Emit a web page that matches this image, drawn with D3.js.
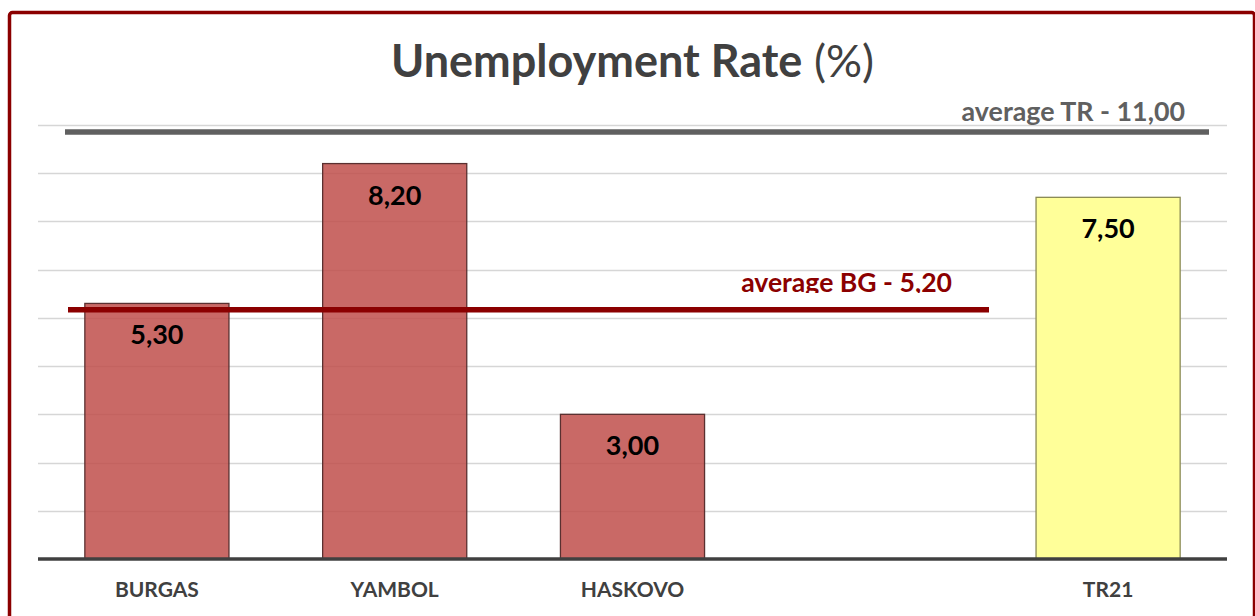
<!DOCTYPE html>
<html>
<head>
<meta charset="utf-8">
<script src="https://cdn.jsdelivr.net/npm/d3@7"></script>
<style>
  html, body { margin: 0; padding: 0; background: #fff; }
  svg { display: block; }
  text { font-family: Lato, "Open Sans", sans-serif; }
</style>
</head>
<body>
<svg id="chart" width="1255" height="616"></svg>
<script>
// ---- data ----
const categories = ["BURGAS", "YAMBOL", "HASKOVO", "", "TR21"];
const values = [5.30, 8.20, 3.00, null, 7.50];
const barColors = ["red", "red", "red", null, "yellow"];
const yTicks = [0, 1, 2, 3, 4, 5, 6, 7, 8, 9];
const avgBG = 5.20;
const avgTR = 11.00;
const titleBold = "Unemployment Rate";
const titleRest = " (%)";

const fmt = v => v.toFixed(2).replace(".", ",");

const svg = d3.select("#chart");
const W = 1255, H = 616;
const plot = { left: 38, right: 1227, top: 125, bottom: 559 };

// frame
svg.append("rect")
  .attr("x", 9.5).attr("y", 12.5)
  .attr("width", 1245).attr("height", 700)
  .attr("rx", 3)
  .attr("fill", "#fff")
  .attr("stroke", "#8B0000").attr("stroke-width", 3.5);

const x = d3.scaleBand()
  .domain(d3.range(categories.length))
  .range([plot.left, plot.right])
  .paddingInner(0.394).paddingOuter(0.197);

const y = d3.scaleLinear()
  .domain([0, 9])
  .range([plot.bottom, plot.top]);

// gridlines
svg.append("g")
  .selectAll("line")
  .data(yTicks.filter(t => t > 0))
  .join("line")
  .attr("x1", plot.left).attr("x2", plot.right)
  .attr("y1", d => Math.round(y(d)) + 0.5).attr("y2", d => Math.round(y(d)) + 0.5)
  .attr("stroke", "#d6d6d6").attr("stroke-width", 1.5);

// title
const title = svg.append("text")
  .attr("x", (plot.left + plot.right) / 2).attr("y", 77)
  .attr("text-anchor", "middle")
  .attr("fill", "#404040")
  .attr("font-size", 45);
title.append("tspan").attr("font-weight", "bold").text(titleBold);
title.append("tspan").attr("font-weight", "normal").text(titleRest);

// bars
const barData = categories.map((c, i) => ({ c, i, v: values[i], col: barColors[i] }))
  .filter(d => d.v != null);

svg.append("g")
  .selectAll("rect")
  .data(barData)
  .join("rect")
  .attr("x", d => x(d.i))
  .attr("y", d => y(d.v))
  .attr("width", x.bandwidth())
  .attr("height", d => y(0) - y(d.v))
  .attr("fill", d => d.col === "red" ? "rgba(192,80,77,0.86)" : "#FFFF99")
  .attr("stroke", d => d.col === "red" ? "#5a3030" : "#8a8a55")
  .attr("stroke-width", 1.3);

// value labels
svg.append("g")
  .selectAll("text")
  .data(barData)
  .join("text")
  .attr("x", d => x(d.i) + x.bandwidth() / 2)
  .attr("y", d => y(d.v) + 41)
  .attr("text-anchor", "middle")
  .attr("font-weight", "bold")
  .attr("font-size", 27)
  .attr("fill", "#000")
  .text(d => fmt(d.v));

// baseline axis
svg.append("line")
  .attr("x1", plot.left).attr("x2", plot.right)
  .attr("y1", y(0)).attr("y2", y(0))
  .attr("stroke", "#404040").attr("stroke-width", 3.5);

// category labels
svg.append("g")
  .selectAll("text")
  .data(categories.map((c, i) => ({ c, i })).filter(d => d.c))
  .join("text")
  .attr("x", d => x(d.i) + x.bandwidth() / 2)
  .attr("y", 597)
  .attr("text-anchor", "middle")
  .attr("font-weight", "bold")
  .attr("font-size", 21)
  .attr("fill", "#404040")
  .text(d => d.c);

// average BG line
const yBG = y(avgBG) + 1.5;
svg.append("defs").append("clipPath").attr("id", "clipBG")
  .append("rect").attr("x", 0).attr("y", 0).attr("width", W).attr("height", 293);
svg.append("line")
  .attr("x1", 68).attr("x2", 989)
  .attr("y1", yBG).attr("y2", yBG)
  .attr("stroke", "#8B0000").attr("stroke-width", 5.5);
svg.append("text")
  .attr("x", 952).attr("y", 292)
  .attr("text-anchor", "end")
  .attr("clip-path", "url(#clipBG)")
  .attr("font-weight", "bold").attr("font-size", 26.6)
  .attr("fill", "#8B0000")
  .text("average BG - " + fmt(avgBG));

// average TR line (value above the axis range, drawn at top)
const yTR = y(y.domain()[1]) + 7;
svg.append("line")
  .attr("x1", 65).attr("x2", 1209)
  .attr("y1", yTR).attr("y2", yTR)
  .attr("stroke", "#606060").attr("stroke-width", 5.5);
svg.append("text")
  .attr("x", 1185).attr("y", 121)
  .attr("text-anchor", "end")
  .attr("font-weight", "bold").attr("font-size", 26.8)
  .attr("fill", "#606060")
  .text("average TR - " + fmt(avgTR));
</script>
</body>
</html>
